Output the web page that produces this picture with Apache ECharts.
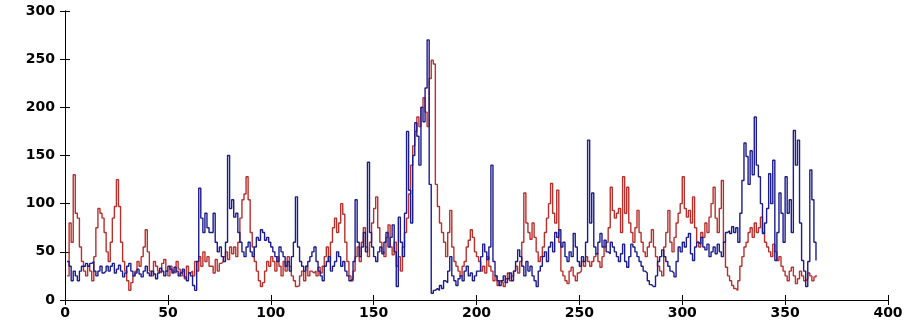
<!DOCTYPE html>
<html>
<head>
<meta charset="utf-8">
<script src="https://cdn.jsdelivr.net/npm/echarts@6/dist/echarts.min.js"></script>
<style>
  html, body { margin: 0; padding: 0; background: #fff; }
  #chart { width: 912px; height: 323px; }
</style>
</head>
<body>
<div id="chart"></div>
<script>
// 红线 (one value per day)
const redSeries = [
    25, 80, 60, 130, 90, 85, 55, 40, 30, 25, 35, 30, 20, 45, 75, 95, 90, 85, 70, 50,
    40, 60, 85, 97, 125, 97, 60, 40, 30, 20, 10, 18, 25, 30, 40, 35, 45, 55, 73, 50,
    30, 25, 40, 35, 30, 28, 38, 42, 30, 25, 35, 30, 28, 40, 32, 25, 30, 22, 35, 28,
    30, 25, 40, 30, 45, 35, 50, 40, 45, 35, 35, 28, 42, 30, 38, 40, 45, 50, 42, 55,
    48, 55, 45, 60, 85, 104, 110, 128, 104, 70, 55, 40, 30, 20, 14, 18, 30, 40, 35, 45,
    40, 30, 45, 35, 25, 40, 30, 45, 35, 25, 20, 14, 15, 25, 30, 20, 35, 25, 30, 28,
    30, 25, 34, 28, 35, 45, 55, 40, 60, 75, 85, 70, 80, 100, 89, 60, 40, 25, 20, 30,
    45, 55, 40, 60, 75, 55, 45, 60, 80, 95, 107, 75, 60, 50, 45, 65, 78, 55, 47, 60,
    35, 45, 30, 55, 70, 85, 110, 140, 160, 175, 190, 180, 200, 210, 195, 180, 230, 249, 245, 120,
    97, 80, 70, 60, 45, 70, 93, 55, 40, 35, 30, 25, 35, 40, 55, 62, 73, 65, 50, 45,
    40, 30, 35, 28, 45, 35, 30, 20, 25, 15, 20, 18, 14, 22, 28, 20, 25, 30, 35, 28,
    40, 60, 111, 80, 70, 63, 80, 65, 50, 40, 45, 55, 70, 85, 100, 121, 90, 80, 114, 60,
    30, 25, 20, 17, 30, 34, 25, 20, 28, 30, 40, 35, 45, 40, 35, 40, 45, 48, 40, 34,
    45, 55, 60, 75, 117, 93, 85, 90, 95, 70, 128, 90, 117, 80, 70, 60, 75, 93, 70, 60,
    50, 45, 55, 60, 73, 55, 45, 35, 30, 25, 55, 70, 93, 60, 50, 65, 80, 90, 100, 128,
    95, 86, 93, 80, 107, 75, 60, 55, 70, 65, 80, 70, 86, 100, 117, 85, 70, 95, 124, 60,
    34, 25, 20, 15, 12, 10, 20, 35, 45, 55, 60, 70, 75, 65, 80, 70, 75, 86, 70, 60,
    55, 50, 45, 58, 50, 41, 45, 35, 30, 25, 20, 30, 34, 25, 17, 22, 30, 25, 20, 22,
    28, 25, 20, 24, 26
];

// 蓝线
const blueSeries = [
    40, 35, 20, 30, 25, 20, 30, 35, 35, 38, 35, 38, 40, 30, 25, 30, 35, 28, 30, 35,
    30, 35, 38, 28, 32, 36, 30, 24, 28, 35, 38, 30, 25, 28, 32, 27, 24, 30, 35, 28,
    25, 30, 27, 22, 28, 33, 30, 25, 30, 35, 32, 28, 34, 30, 25, 28, 32, 24, 20, 28,
    25, 15, 10, 40, 116, 85, 70, 90, 75, 70, 70, 90, 60, 50, 55, 45, 40, 60, 150, 95,
    104, 86, 90, 70, 60, 50, 45, 55, 60, 50, 45, 55, 65, 62, 73, 70, 62, 65, 60, 55,
    50, 45, 40, 55, 50, 45, 35, 40, 30, 45, 60, 107, 55, 40, 35, 30, 35, 40, 45, 50,
    55, 40, 30, 25, 20, 35, 40, 45, 30, 35, 40, 50, 45, 35, 40, 30, 25, 20, 22, 40,
    104, 60, 45, 55, 70, 50, 143, 70, 55, 45, 40, 50, 55, 48, 60, 70, 55, 65, 78, 50,
    14, 86, 60, 45, 90, 175, 114, 80, 150, 184, 170, 140, 200, 185, 220, 270, 120, 7, 10, 12,
    10, 15, 12, 20, 18, 30, 45, 25, 20, 15, 22, 25, 20, 30, 35, 25, 28, 20, 25, 30,
    30, 45, 58, 50, 42, 55, 140, 40, 25, 20, 15, 20, 25, 18, 22, 28, 20, 30, 40, 52,
    45, 35, 25, 40, 30, 35, 25, 20, 14, 30, 35, 45, 50, 40, 55, 60, 50, 70, 65, 73,
    55, 60, 45, 40, 50, 45, 69, 55, 40, 35, 45, 40, 60, 166, 80, 111, 55, 48, 60, 69,
    55, 62, 50, 48, 60, 55, 50, 45, 40, 48, 58, 40, 34, 45, 58, 55, 50, 45, 40, 35,
    30, 28, 20, 16, 14, 14, 25, 40, 45, 52, 45, 40, 35, 30, 28, 24, 40, 55, 50, 60,
    55, 65, 69, 48, 41, 55, 60, 58, 65, 55, 52, 58, 45, 50, 55, 48, 58, 50, 45, 60,
    70, 72, 69, 76, 70, 75, 60, 90, 124, 163, 149, 120, 155, 130, 190, 140, 128, 100, 69, 80,
    95, 131, 100, 145, 41, 70, 111, 90, 60, 128, 90, 104, 70, 176, 140, 166, 80, 41, 30, 14,
    40, 135, 104, 60, 41
];

const xTicks = [0, 50, 100, 150, 200, 250, 300, 350, 400];
const yTicks = [0, 50, 100, 150, 200, 250, 300];

const toPoints = (arr) => arr.map((v, i) => [i + 1, v]);

const chart = echarts.init(document.getElementById('chart'));

const labelStyle = {
    fontFamily: 'DejaVu Sans',
    fontWeight: 'bold',
    fontSize: 14,
    color: '#000',
};

const lineAxis = {
    show: true,
    lineStyle: { color: '#000', width: 1 },
};

const tickIn = {
    show: true,
    inside: true,
    length: 5,
    lineStyle: { color: '#000' },
};

chart.setOption({
    animation: false,
    backgroundColor: '#fff',
    grid: {
        left: 65,
        right: 24,
        top: 11,
        bottom: 23,
    },
    xAxis: [
        {
            type: 'value',
            min: xTicks[0],
            max: xTicks[xTicks.length - 1],
            interval: 50,
            axisLine: lineAxis,
            axisTick: tickIn,
            splitLine: { show: false },
            axisLabel: { ...labelStyle, margin: 6 },
        },
        {
            type: 'value',
            position: 'top',
            min: xTicks[0],
            max: xTicks[xTicks.length - 1],
            interval: 50,
            axisLine: lineAxis,
            axisTick: tickIn,
            splitLine: { show: false },
            axisLabel: { show: false },
        },
    ],
    yAxis: [
        {
            type: 'value',
            min: yTicks[0],
            max: yTicks[yTicks.length - 1],
            interval: 50,
            axisLine: lineAxis,
            axisTick: tickIn,
            splitLine: { show: false },
            axisLabel: { ...labelStyle, margin: 10 },
        },
        {
            type: 'value',
            position: 'right',
            min: yTicks[0],
            max: yTicks[yTicks.length - 1],
            interval: 50,
            axisLine: lineAxis,
            axisTick: tickIn,
            splitLine: { show: false },
            axisLabel: { show: false },
        },
    ],
    series: [
        {
            name: 'red',
            type: 'line',
            step: 'end',
            data: toPoints(redSeries),
            showSymbol: false,
            color: '#b8302c',
            lineStyle: { width: 1.4 },
        },
        {
            name: 'blue',
            type: 'line',
            step: 'end',
            data: toPoints(blueSeries),
            showSymbol: false,
            color: '#1c1c8e',
            lineStyle: { width: 1.4 },
        },
    ],
});
</script>
</body>
</html>
